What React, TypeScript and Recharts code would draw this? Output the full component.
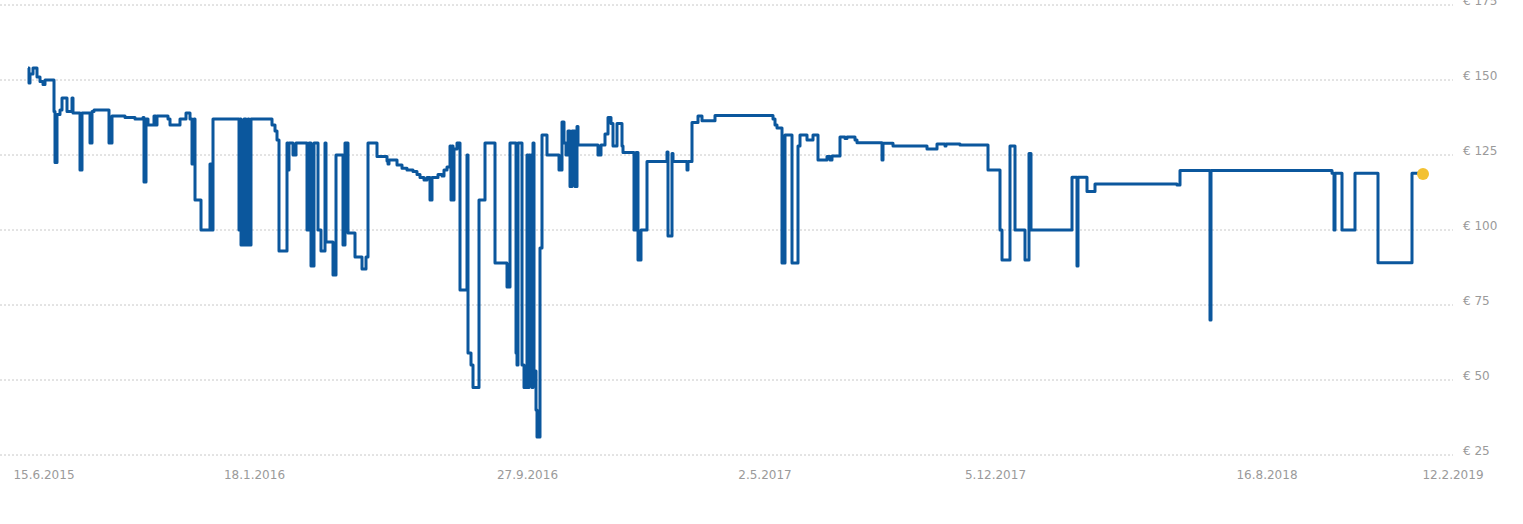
import { LineChart, Line, XAxis, YAxis, CartesianGrid } from 'recharts';

// day index of each price change (0 = 15.6.2015)
const stepDays = [
  0, 1, 2, 5, 9, 12, 15, 17, 26, 27, 29, 32, 34, 39, 44, 45, 52, 54, 62, 64, 66, 81, 84, 97, 107,
  115, 116, 118, 120, 126, 128, 129, 140, 142, 152, 158, 162, 164, 166, 167, 173, 182, 184, 185,
  211, 212, 213, 216, 218, 220, 221, 223, 244, 247, 249, 251, 259, 260, 261, 265, 268, 279, 281, 283,
  286, 290, 293, 297, 298, 305, 308, 315, 317, 320, 327, 334, 338, 340, 349, 359, 360, 361, 369,
  374, 379, 385, 389, 392, 396, 399, 402, 404, 410, 414, 416, 419, 422, 423, 424, 425, 426, 429,
  432, 439, 440, 443, 445, 451, 457, 467, 479, 482, 488, 489, 490, 494, 496, 499, 500, 501, 502,
  503, 504, 505, 506, 508, 509, 512, 514, 519, 531, 534, 536, 538, 540, 542, 544, 547, 549, 550,
  570, 573, 577, 580,
  583, 585, 589, 594, 595, 606, 608, 610, 613, 619, 639, 640, 644, 645, 659, 660, 664, 670, 674,
  687, 745, 747, 749, 754, 757, 764, 770, 772, 779, 785, 790, 799, 802, 804, 812, 817, 819, 827,
  829, 854, 855, 865, 899, 909, 917, 918, 932, 960, 972, 974, 982, 987, 997, 1001, 1003, 1044,
  1049, 1050, 1059, 1067, 1149, 1152, 1182, 1183, 1304, 1306, 1307, 1314, 1327, 1350, 1384, 1390,
];

const stepPrices = [
  154, 149, 152, 154, 151, 149.5, 148.5, 150, 139.5, 122.5, 138.5, 140, 144, 139.5, 144, 139, 120,
  139, 129, 139.5, 140, 129, 138, 137.5, 137, 137.5, 116, 137, 135, 138, 135, 138, 137, 135, 137,
  139, 137, 122, 137, 110, 100, 122, 100, 137, 100, 137, 95, 137, 95, 137, 95, 137, 135, 133, 130, 93,
  129, 120, 129, 125, 129, 100, 129, 88, 129, 100, 93, 129, 96, 85, 125, 95, 129, 99, 91, 87, 91,
  129, 124.5, 123, 122, 123.3, 121.7, 120.6, 120, 119.5, 118.5, 117.5, 116.7, 117.5, 110, 117.5,
  118.5, 118, 120, 121, 128, 110, 128, 110, 127, 129, 80, 125, 59, 55, 47.5, 110, 129, 89, 81,
  129, 59, 55, 129, 55, 47.5, 125, 47.5, 125, 53, 125, 47.5, 129, 53, 40, 31, 94, 131.7, 125,
  120, 136, 129, 125, 133, 114.5, 133, 114.5, 134.5, 128.3,
  125, 128.3, 132, 137.5, 135.5, 128, 135.5, 128, 125.8, 100,
  125.8, 90, 100, 122.8, 126, 98, 125.5, 122.8, 120, 122.8, 135.8, 138, 136.4, 138.2, 137, 135,
  134, 89, 131.7, 89, 128, 131.7, 130, 131.7, 123.3, 124.5, 123.3, 124.7, 131, 130.5, 131, 130,
  129.1, 123.3, 128.9, 128, 127, 128.7, 128, 128.7, 128.3, 120, 100, 90, 128, 100, 90, 125.5, 100,
  117.6, 88, 117.6, 112.8, 115.3, 115, 119.8, 70, 119.8, 118.9, 100, 118.9, 100, 118.9, 89.1,
  118.9, 118.9,
];

const currentDay = 1395;
const currentPrice = 118.7;

const tickDays = [16, 226.5, 499.5, 737, 967.5, 1239, 1425];
const tickLabels = ['15.6.2015', '18.1.2016', '27.9.2016', '2.5.2017', '5.12.2017', '16.8.2018', '12.2.2019'];
const priceTicks = [25, 50, 75, 100, 125, 150, 175];

const chartData: any[] = stepDays.map((d, i) => ({ day: d, price: stepPrices[i] }));
chartData.push({ day: currentDay, current: currentPrice });

const font = 'DejaVu Sans, Verdana, sans-serif';

const DateTick = (props: any) => {
  const { x, y, payload } = props;
  const label = tickLabels[tickDays.indexOf(payload.value)];
  return (
    <text x={x} y={y + 24} textAnchor="middle" fill="#9a9a9a" fontSize={12} fontFamily={font}>
      {label}
    </text>
  );
};

const PriceTick = (props: any) => {
  const { x, y, payload } = props;
  return (
    <text x={x} y={y} textAnchor="start" fill="#9a9a9a" fontSize={12} fontFamily={font}>
      {`€ ${payload.value}`}
    </text>
  );
};

export default function App() {
  return (
    <div style={{ position: 'absolute', left: 0, top: 0, background: '#fff' }}>
      <LineChart width={1523} height={524} data={chartData} margin={{ top: 5, right: 0, bottom: 0, left: 0 }}>
        <CartesianGrid vertical={false} stroke="#c8c8c8" strokeDasharray="2 2" />
        <XAxis
          type="number"
          dataKey="day"
          domain={[-28, 1425]}
          allowDataOverflow
          ticks={tickDays}
          interval={0}
          axisLine={false}
          tickLine={false}
          tickSize={0}
          tickMargin={0}
          height={69}
          tick={DateTick}
        />
        <YAxis
          orientation="right"
          domain={[25, 175]}
          ticks={priceTicks}
          interval={0}
          width={70}
          axisLine={false}
          tickLine={false}
          tickSize={0}
          tickMargin={10}
          tick={PriceTick}
        />
        <Line
          type="stepAfter"
          dataKey="price"
          stroke="#0b579d"
          strokeWidth={3}
          strokeLinejoin="round"
          dot={false}
          activeDot={false}
          isAnimationActive={false}
        />
        <Line
          dataKey="current"
          stroke="none"
          dot={{ r: 6, fill: '#f3c131', stroke: 'none' }}
          activeDot={false}
          isAnimationActive={false}
        />
      </LineChart>
    </div>
  );
}
